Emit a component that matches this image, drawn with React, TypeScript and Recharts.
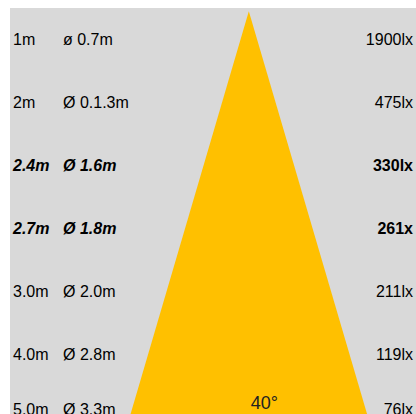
import { ComposedChart, Area, XAxis, YAxis, ReferenceDot } from 'recharts'

// rows of the light table, top to bottom
const rows = [1, 2, 3, 4, 5, 6, 7]
const distances = ['1m', '2m', '2.4m', '2.7m', '3.0m', '4.0m', '5.0m']
const diameters = ['ø 0.7m', 'Ø 0.1.3m', 'Ø 1.6m', 'Ø 1.8m', 'Ø 2.0m', 'Ø 2.8m', 'Ø 3.3m']
const lux = ['1900lx', '475lx', '330lx', '261x', '211lx', '119lx', '76lx']
const emphasised = [false, false, true, true, false, false, false]

// beam cone: lateral spread vs row depth
const coneSpread = [-1, 0, 1]
const coneDepth = [7, 0.55, 7]
const beamAngle = '40°'

const coneData = coneSpread.map((x, i) => ({ x, y: coneDepth[i] }))

const W = 406
const H = 410
const VISIBLE_H = 406
const FONT = '"Liberation Sans", Arial, sans-serif'

const RowTick = (props: any) => {
  const { index } = props
  // keep the last row readable inside the visible frame
  const y = Math.min(props.y, VISIBLE_H - 5)
  const strong = emphasised[index]
  const base = {
    fontFamily: FONT,
    fontSize: 16,
    fill: '#000',
    fontWeight: strong ? 'bold' : 'normal'
  } as const
  const left = { ...base, fontStyle: strong ? 'italic' : 'normal' }
  return (
    <g>
      <text x={3} y={y} dominantBaseline="central" textAnchor="start" {...left}>
        {distances[index]}
      </text>
      <text x={53} y={y} dominantBaseline="central" textAnchor="start" {...left}>
        {diameters[index]}
      </text>
      <text x={W - 3} y={y} dominantBaseline="central" textAnchor="end" {...base}>
        {lux[index]}
      </text>
    </g>
  )
}

export default function App() {
  return (
    <div style={{ position: 'absolute', left: 10, top: 8 }}>
      <style>{'body{margin:0;overflow:hidden}'}</style>
      <ComposedChart
        width={W}
        height={H}
        data={coneData}
        margin={{ top: 0, right: 0, bottom: 0, left: -1 }}
        style={{ background: '#d9d9d9' }}
      >
        <XAxis type="number" dataKey="x" domain={[-2, 1.4]} allowDataOverflow hide />
        <YAxis
          yAxisId="left"
          type="number"
          domain={[0.5, 7]}
          reversed
          allowDataOverflow
          ticks={rows}
          interval={0}
          width={1}
          axisLine={false}
          tickLine={false}
          tick={RowTick}
        />
        <Area
          yAxisId="left"
          type="linear"
          dataKey="y"
          baseValue={7}
          stroke="none"
          fill="#ffc000"
          fillOpacity={1}
          isAnimationActive={false}
          dot={false}
          activeDot={false}
        />
        <ReferenceDot
          yAxisId="left"
          x={0.13}
          y={6.75}
          r={0}
          stroke="none"
          fill="none"
          label={{ value: beamAngle, position: 'center', fill: '#222', fontSize: 18, fontFamily: FONT }}
        />
      </ComposedChart>
    </div>
  )
}
